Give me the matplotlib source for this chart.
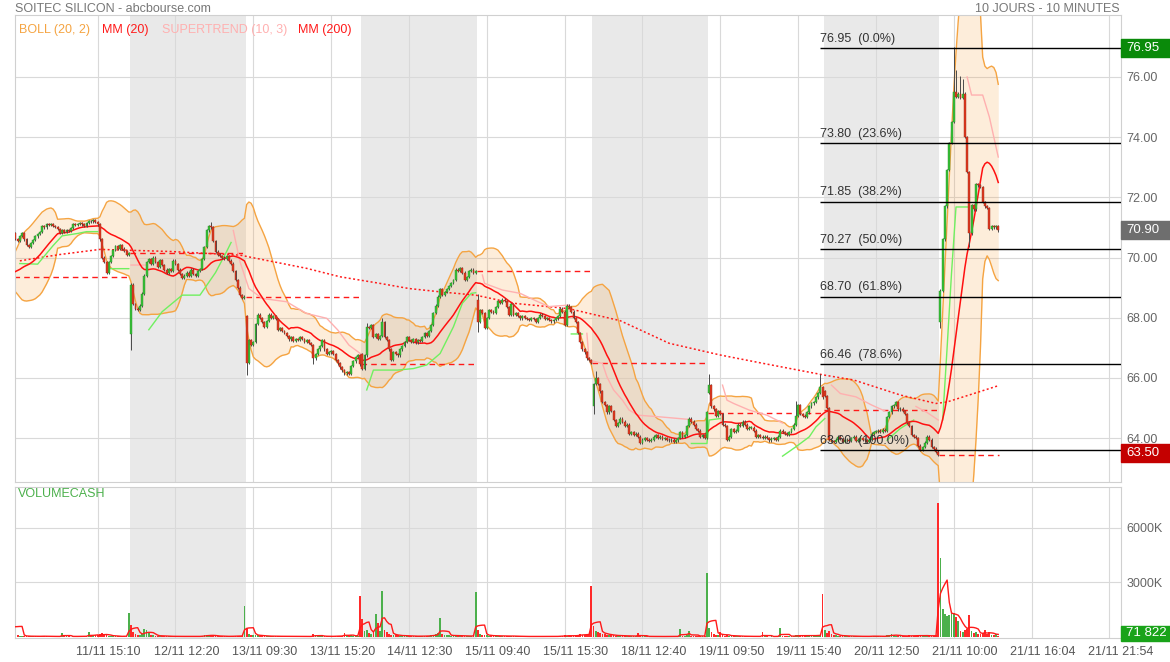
import numpy as np
import pandas as pd
import matplotlib
matplotlib.use("Agg")
import matplotlib.pyplot as plt
from matplotlib.patches import Rectangle
from matplotlib.transforms import ScaledTranslation, blended_transform_factory

plt.rcParams['font.family'] = ['Liberation Sans', 'DejaVu Sans']

W, H = 1170, 662
nan = np.nan

# --- fin de seance du 08/11, sert seulement a amorcer les indicateurs
seed_close = [69.90, 69.85, 69.95, 69.80, 69.70, 69.75, 69.60, 69.55, 69.50, 69.40,
              69.30, 69.35, 69.20, 69.15, 69.25, 69.30, 69.40, 69.35, 69.30, 69.35]
seed_vol = [40, 30, 50, 35, 30, 45, 40, 30, 60, 50, 40, 35, 30, 50, 45, 40, 30, 30, 30, 2400]

# --- clotures 10 minutes, une liste par seance
c_1111 = [70.62, 70.55, 70.72, 70.80, 70.60, 70.42, 70.35, 70.48, 70.58, 70.70,
          70.78, 70.85, 71.05, 71.00, 71.10, 71.08, 71.12, 71.05, 71.02, 70.95,
          70.82, 70.90, 70.85, 70.92, 70.88, 70.98, 71.10, 71.08, 71.12, 71.15,
          71.10, 71.05, 71.15, 71.22, 71.20, 71.25, 71.18, 71.10, 70.60, 70.00,
          69.85, 69.50, 69.85, 70.05, 70.25, 70.38, 70.30, 70.40, 70.30, 70.22,
          70.10, 70.15]
c_1211 = [69.10, 68.45, 68.30, 68.25, 68.40, 68.80, 69.40, 69.85, 69.95, 69.80,
          70.00, 69.85, 69.70, 69.92, 69.75, 69.60, 69.50, 69.62, 69.55, 69.90,
          69.78, 69.60, 69.45, 69.32, 69.40, 69.50, 69.38, 69.60, 69.45, 69.38,
          69.55, 69.62, 69.95, 70.35, 70.90, 71.05, 71.00, 70.55, 70.20, 70.10,
          70.05, 70.00, 69.95, 70.05, 69.90, 69.80, 69.55, 69.25, 69.00, 68.75,
          68.65, 68.70]
c_1311 = [66.50, 67.25, 67.10, 67.20, 67.80, 68.10, 68.00, 67.85, 67.70, 67.90,
          68.10, 68.00, 68.05, 67.95, 67.60, 67.65, 67.55, 67.50, 67.40, 67.28,
          67.35, 67.22, 67.30, 67.25, 67.35, 67.30, 67.20, 67.25, 67.15, 67.10,
          66.65, 66.80, 66.95, 67.05, 67.25, 66.95, 66.80, 66.85, 66.90, 66.80,
          66.60, 66.48, 66.35, 66.25, 66.15, 66.20, 66.12, 66.40, 66.55, 66.70,
          66.75, 66.45]
c_1411 = [66.30, 66.75, 67.70, 67.65, 67.75, 67.35, 67.45, 67.30, 67.40, 67.85,
          67.35, 67.25, 66.95, 66.60, 66.85, 66.80, 66.75, 66.95, 67.05, 67.20,
          67.35, 67.25, 67.20, 67.28, 67.18, 67.25, 67.22, 67.35, 67.50, 67.40,
          67.55, 67.75, 68.15, 68.40, 68.70, 68.95, 68.75, 68.85, 68.95, 69.05,
          69.15, 69.25, 69.60, 69.55, 69.65, 69.50, 69.25, 69.35, 69.55, 69.60,
          69.50, 69.55]
c_1511 = [67.85, 68.25, 68.15, 67.65, 68.00, 68.25, 68.20, 68.15, 68.35, 68.55,
          68.50, 68.60, 68.55, 68.35, 68.10, 68.45, 68.10, 68.15, 68.05, 67.98,
          68.05, 68.00, 67.95, 67.92, 68.00, 67.95, 67.85, 68.00, 68.10, 68.05,
          67.95, 68.00, 67.92, 67.88, 67.92, 67.98, 68.05, 68.30, 68.20, 67.75,
          68.40, 68.35, 68.20, 68.00, 67.85, 67.50, 67.20, 66.95, 66.85, 66.65,
          66.60, 66.50]
c_1811 = [65.80, 66.00, 65.80, 65.55, 65.20, 65.10, 64.85, 65.05, 64.90, 64.60,
          64.40, 64.50, 64.65, 64.55, 64.40, 64.45, 64.15, 64.20, 64.10, 64.15,
          64.05, 63.85, 63.95, 64.00, 63.95, 63.90, 63.95, 64.05, 64.10, 64.00,
          64.05, 63.98, 64.00, 63.95, 63.92, 63.95, 63.88, 63.92, 64.00, 64.20,
          64.05, 64.10, 64.40, 64.65, 64.55, 64.45, 64.30, 64.25, 64.05, 64.10,
          64.00, 64.85]
c_1911 = [65.75, 65.05, 64.95, 64.75, 64.90, 64.80, 64.45, 64.40, 63.95, 64.05,
          64.30, 64.20, 64.25, 64.45, 64.40, 64.55, 64.45, 64.30, 64.35, 64.35,
          64.25, 64.05, 64.10, 64.05, 64.00, 64.05, 64.00, 63.92, 63.98, 64.00,
          63.95, 64.05, 64.25, 64.20, 64.15, 64.10, 64.20, 64.30, 64.45, 64.75,
          65.10, 64.80, 64.75, 64.70, 64.85, 65.05, 65.15, 65.20, 65.35, 65.50,
          65.70, 65.35]
c_2011 = [65.40, 65.00, 63.95, 63.90, 63.88, 63.95, 64.05, 63.98, 63.88, 63.92,
          63.95, 63.90, 64.00, 64.05, 63.90, 63.95, 64.00, 63.95, 63.92, 63.88,
          63.95, 64.15, 64.20, 64.22, 64.25, 64.20, 64.28, 64.25, 64.70, 64.85,
          65.05, 65.10, 65.20, 64.95, 64.98, 64.90, 64.80, 64.50, 64.40, 64.10,
          64.05, 64.00, 63.75, 63.60, 63.70, 63.85, 64.05, 63.95, 63.70, 63.65,
          63.55, 63.45]
c_2111 = [68.90, 70.60, 71.70, 72.90, 73.80, 74.50, 75.50, 75.35, 75.45, 75.30,
          75.45, 74.00, 72.85, 70.80, 71.75, 71.60, 72.45, 72.40, 72.35, 71.85,
          71.70, 71.65, 70.95, 71.05, 71.00, 71.05, 70.90]

# ouverture de chaque seance (les autres barres ouvrent sur la cloture precedente)
day_open = [70.80, 67.45, 68.05, 66.80, 68.60, 65.05, 65.50, 65.55, 67.85]

# meches visibles (index de barre depuis le 11/11 09:00)
hi_fix = {88: 71.15, 158: 67.80, 165: 67.95, 208: 68.75, 261: 66.20, 312: 66.10,
          351: 65.20, 362: 66.10, 422: 76.95, 423: 76.20, 425: 76.00, 426: 75.90}
lo_fix = {52: 66.98, 104: 66.15, 134: 66.50, 208: 67.55, 260: 64.85, 416: 67.70,
          429: 70.40}

# volumes en milliers
v_1111 = [300, 80, 60, 40, 50, 30, 40, 35, 30, 45, 30, 25, 60, 30, 40, 20, 30, 25, 30, 20,
          30, 240, 40, 30, 25, 20, 30, 25, 40, 30, 20, 25, 60, 270, 40, 30, 90, 120, 150, 200,
          80, 110, 60, 50, 40, 30, 35, 25, 30, 40, 60, 1330]
v_1211 = [650, 250, 180, 120, 100, 150, 420, 380, 200, 90, 80, 60, 50, 40, 60, 40, 30, 40, 30, 25,
          30, 40, 25, 30, 20, 25, 30, 20, 25, 30, 40, 30, 60, 80, 120, 90, 60, 70, 50, 40,
          30, 35, 30, 25, 40, 30, 50, 60, 40, 50, 60, 1690]
v_1311 = [500, 160, 90, 80, 120, 90, 60, 50, 40, 50, 45, 30, 35, 30, 50, 30, 25, 30, 20, 25,
          30, 20, 25, 30, 20, 25, 20, 30, 25, 30, 160, 80, 40, 30, 50, 40, 30, 25, 30, 35,
          60, 50, 40, 60, 230, 50, 60, 90, 60, 50, 70, 2240]
v_1411 = [960, 300, 400, 200, 150, 300, 1240, 780, 300, 2510, 400, 250, 150, 120, 100, 80, 90, 60, 50, 70,
          60, 40, 50, 40, 30, 40, 35, 50, 60, 40, 70, 80, 120, 150, 200, 1020, 150, 100, 80, 90,
          70, 60, 80, 60, 50, 40, 60, 50, 40, 50, 80, 2475]
v_1511 = [400, 150, 120, 90, 80, 60, 70, 50, 60, 70, 40, 50, 45, 40, 60, 50, 40, 35, 30, 25,
          30, 20, 25, 30, 20, 25, 30, 25, 20, 30, 25, 20, 25, 30, 20, 30, 40, 60, 50, 80,
          70, 60, 50, 60, 80, 120, 150, 130, 110, 120, 150, 2785]
v_1811 = [600, 300, 250, 200, 180, 150, 120, 100, 90, 80, 70, 60, 70, 60, 50, 60, 50, 40, 50, 40,
          200, 40, 30, 25, 30, 20, 25, 30, 25, 20, 30, 25, 20, 25, 30, 20, 25, 30, 40, 450,
          60, 50, 80, 300, 60, 50, 40, 60, 50, 40, 60, 3510]
v_1911 = [510, 250, 150, 120, 100, 250, 80, 60, 90, 70, 60, 50, 40, 50, 40, 35, 30, 40, 30, 25,
          30, 40, 25, 30, 250, 30, 25, 20, 30, 25, 30, 40, 510, 60, 40, 30, 40, 50, 60, 90,
          80, 60, 50, 60, 70, 80, 60, 70, 80, 90, 120, 2330]
v_2011 = [360, 200, 300, 150, 100, 80, 70, 60, 50, 60, 40, 50, 40, 35, 30, 40, 30, 25, 30, 40,
          30, 60, 40, 30, 25, 30, 40, 35, 80, 100, 150, 80, 70, 60, 50, 40, 50, 60, 80, 70,
          60, 50, 90, 80, 60, 70, 60, 50, 70, 60, 80, 7370]
v_2111 = [4330, 1510, 1250, 1150, 1200, 1420, 1330, 1100, 900, 330, 250, 400, 450, 1180, 350, 200,
          250, 180, 150, 200, 380, 150, 250, 120, 100, 150, 71.822]

# niveaux de cloture de la veille (pointilles rouges par seance)
prev_close = [69.35, 70.15, 68.70, 66.45, 69.55, 66.50, 64.84, 64.93, 63.45]

# moyenne mobile 200 (historique non visible)
mm200_bar = [2, 20, 38, 70, 101, 116, 131, 146, 164, 177, 191, 207, 224, 249, 272,
             294, 317, 335, 364, 377, 398, 414, 419, 431, 442]
mm200_val = [69.89, 70.10, 70.27, 70.20, 70.08, 69.86, 69.64, 69.36, 69.14, 68.97,
             68.86, 68.75, 68.48, 68.30, 67.90, 67.15, 66.76, 66.50, 66.09, 65.93,
             65.43, 65.15, 65.20, 65.48, 65.74]

# supertrend (10, 3), nan = coupure
st_up_bar = [2, 10, 17, 21, 28, 32, 37, nan,
             42, 51, nan,
             60, 66, 75, 83, 90, 95, 97, nan,
             158, 161, 172, 179, 185, 191, 197, 201, 205, 207, nan,
             250, 255, nan,
             304, 311, 312, 317, nan,
             345, 351, 357, 360, 364, nan,
             392, 398, 404, nan,
             417, 419, 421, 423, 429]
st_up_val = [69.80, 69.78, 70.40, 70.72, 70.80, 70.86, 70.86, nan,
             69.63, 69.63, nan,
             67.60, 68.20, 68.75, 68.75, 69.50, 70.20, 70.50, nan,
             65.60, 66.26, 66.26, 66.31, 66.43, 66.81, 67.70, 68.48, 68.81, 68.83, nan,
             67.46, 67.46, nan,
             63.82, 63.82, 64.60, 64.65, nan,
             63.40, 63.71, 64.04, 64.37, 64.65, nan,
             63.93, 64.32, 64.60, nan,
             64.60, 67.00, 69.50, 71.68, 71.68]
st_dn_bar = [52, 59, nan,
             98, 101, 105, 111, 122, 127, 131, 140, 145, 150, 156, nan,
             210, 211, 219, 227, 235, 240, 249, nan,
             257, 258, 264, 266, 269, 273, 276, 280, 289, 303, nan,
             318, 320, 323, 330, 338, 345, nan,
             367, 371, 378, 385, 391, nan,
             405, 410, 415, nan,
             428, 430, 435, 438, 442]
st_dn_val = [69.75, 69.75, nan,
             70.90, 69.86, 68.97, 68.64, 68.53, 68.31, 68.14, 67.98, 67.59, 67.09, 66.76, nan,
             69.42, 69.14, 68.92, 68.81, 68.53, 68.37, 68.42, nan,
             67.48, 66.59, 66.48, 66.04, 65.60, 65.26, 64.93, 64.76, 64.71, 64.62, nan,
             65.76, 65.26, 65.15, 64.93, 64.76, 64.50, nan,
             65.76, 65.48, 65.37, 65.10, 64.90, nan,
             65.05, 64.85, 64.60, nan,
             76.00, 75.40, 75.40, 74.67, 73.34]

fib_levels = [76.95, 73.80, 71.85, 70.27, 68.70, 66.46, 63.60]
fib_pct = ["0.0%", "23.6%", "38.2%", "50.0%", "61.8%", "78.6%", "100.0%"]

tick_labels = ["11/11 15:10", "12/11 12:20", "13/11 09:30", "13/11 15:20", "14/11 12:30",
               "15/11 09:40", "15/11 15:30", "18/11 12:40", "19/11 09:50", "19/11 15:40",
               "20/11 12:50", "21/11 10:00", "21/11 16:04", "21/11 21:54"]

# --- assemblage OHLC
days = [c_1111, c_1211, c_1311, c_1411, c_1511, c_1811, c_1911, c_2011, c_2111]
vols = [v_1111, v_1211, v_1311, v_1411, v_1511, v_1811, v_1911, v_2011, v_2111]
n_seed = len(seed_close)
closes = np.array(seed_close + sum(days, []))
volume = np.array(seed_vol + sum(vols, []), dtype=float)
opens = np.r_[closes[0], closes[:-1]]
starts = np.cumsum([0] + [len(d) for d in days])
for d in range(len(days)):
    opens[n_seed + starts[d]] = day_open[d]
highs = np.maximum(opens, closes)
lows = np.minimum(opens, closes)
for b, v in hi_fix.items():
    highs[n_seed + b] = v
for b, v in lo_fix.items():
    lows[n_seed + b] = v
x = np.arange(len(closes)) - n_seed

# --- indicateurs
s = pd.Series(closes)
mm20 = s.rolling(20).mean().values
sd = s.rolling(20).std(ddof=0).values
bb_up = mm20 + 2 * sd
bb_dn = mm20 - 2 * sd
vol_ma = pd.Series(volume).rolling(5).mean().values

show = x >= 0
xs = x[show]

# --- figure
fig = plt.figure(figsize=(W / 100, H / 100), dpi=100)
fig.patch.set_facecolor('white')
ax = fig.add_axes([14.5 / W, 1 - 482 / H, (1121 - 14.5) / W, (482 - 15) / H])
axv = fig.add_axes([14.5 / W, 1 - 638 / H, (1121 - 14.5) / W, (638 - 487) / H], sharex=ax)

xmax = 497.2
for a in (ax, axv):
    for d in (1, 3, 5, 7):
        a.axvspan(starts[d] - 0.5, starts[d + 1] - 0.5, color='#e9e9e9', lw=0, zorder=0)
    a.set_axisbelow(True)
    a.grid(True, color='#d9d9d9', lw=0.8)
    for sp in a.spines.values():
        sp.set_color('#d0d0d0')
        sp.set_linewidth(0.8)
    a.yaxis.tick_right()
    a.tick_params(axis='y', length=0, pad=4, labelsize=9, labelcolor='#666666')
    a.tick_params(axis='x', length=0)

ax.set_xlim(-0.4, xmax)
ax.set_ylim(62.54, 78.06)
ax.set_yticks(np.arange(64, 77, 2))
ax.yaxis.set_major_formatter(plt.FormatStrFormatter('%.2f'))
ax.set_xticks([37 + 35 * k for k in range(len(tick_labels))])
ax.tick_params(axis='x', labelbottom=False)
axv.set_xticklabels(tick_labels)
axv.tick_params(axis='x', labelsize=9, labelcolor='#555555', pad=6)
for lbl in axv.get_xticklabels():
    lbl.set_transform(lbl.get_transform() + ScaledTranslation(0.11, 0, fig.dpi_scale_trans))

# bollinger
ax.fill_between(xs, bb_dn[show], bb_up[show], color='#f7a548', alpha=0.2, lw=0, zorder=1)
ax.plot(xs, bb_up[show], color='#f5a442', lw=1, zorder=2)
ax.plot(xs, bb_dn[show], color='#f5a442', lw=1, zorder=2)

# cloture veille
for d in range(len(days)):
    x0 = starts[d] - 0.5
    x1 = starts[d + 1] - 0.5
    ax.plot([x0, x1], [prev_close[d], prev_close[d]], color='#ff1a1a', lw=1,
            dashes=(4, 3), zorder=2)

ax.plot(mm200_bar, mm200_val, color='#ff1a1a', lw=1.1, dashes=(1.3, 1.6), zorder=3)
ax.plot(st_dn_bar, st_dn_val, color='#ffb0b0', lw=1, zorder=3)
ax.plot(st_up_bar, st_up_val, color='#70f060', lw=1, zorder=3)
ax.plot(xs, mm20[show], color='#ff1010', lw=1.1, zorder=3)

# bougies
o, c, h, l = opens[show], closes[show], highs[show], lows[show]
up = c >= o
body_lo = np.minimum(o, c)
body_h = np.maximum(abs(c - o), 0.025)
ax.vlines(xs, l - 0.04, h + 0.04, color='#4a4a4a', lw=0.7, zorder=4)
ax.bar(xs[up], body_h[up], bottom=body_lo[up], width=0.85, color='#36c236',
       edgecolor='#2b8c2b', lw=0.3, zorder=5)
ax.bar(xs[~up], body_h[~up], bottom=body_lo[~up], width=0.85, color='#e0381f',
       edgecolor='#9c2a1a', lw=0.3, zorder=5)

# fibonacci
fx0 = 361.8
ax.hlines(fib_levels, fx0, xmax, color='black', lw=1, zorder=6)
for lv, pc in zip(fib_levels, fib_pct):
    ax.annotate(f"{lv:.2f}  ({pc})", (fx0, lv), xytext=(0, 2.5), textcoords='offset points',
                fontsize=9, color='#333333', va='bottom', ha='left', zorder=7)

# volume
prev = np.r_[closes[0], closes[:-1]]
vcol = np.where(closes >= prev, '#4cb04c', '#ff2a2a')
axv.bar(xs, volume[show], width=0.8, color=vcol[show], lw=0, zorder=2)
axv.plot(xs, vol_ma[show], color='#ff1a1a', lw=1, zorder=3)
axv.set_ylim(-60, 8230)
axv.set_yticks([3000, 6000])
axv.set_yticklabels(['3000K', '6000K'])

# etiquettes de prix a droite
tp = blended_transform_factory(fig.transFigure, ax.transData)
bh = 18 * (78.06 - 62.54) / 467
for val, txt, col in [(76.95, '76.95', '#0a8a0a'), (70.90, '70.90', '#6e6e6e'),
                      (63.50, '63.50', '#c40000')]:
    ax.add_patch(Rectangle((1121 / W, val - bh / 2), 49 / W, bh, transform=tp,
                           color=col, clip_on=False, zorder=10))
    ax.text(1126 / W, val, txt, transform=tp, color='white', fontsize=9.5,
            va='center', ha='left', clip_on=False, zorder=11)
tv = blended_transform_factory(fig.transFigure, axv.transData)
vh = 15 * 8290 / 152
axv.add_patch(Rectangle((1121 / W, 200 - vh / 2), 49 / W, vh, transform=tv,
                        color='#19a319', clip_on=False, zorder=10))
axv.text(1126 / W, 200, '71 822', transform=tv, color='white', fontsize=9.5,
         va='center', ha='left', clip_on=False, zorder=11)

# textes
def fpos(px, py):
    return px / W, 1 - py / H


fig.text(*fpos(15, 9), 'SOITEC SILICON - abcbourse.com', fontsize=9, color='#777777', va='center')
fig.text(*fpos(1120, 9), '10 JOURS - 10 MINUTES', fontsize=9, color='#777777', va='center', ha='right')
for px, txt, col in [(19, 'BOLL (20, 2)', '#f5a442'), (102, 'MM (20)', '#ff1a1a'),
                     (162, 'SUPERTREND (10, 3)', '#ffb0b0'), (298, 'MM (200)', '#ff1a1a')]:
    fig.text(*fpos(px, 30), txt, fontsize=9, color=col, va='center')
fig.text(*fpos(18, 494), 'VOLUMECASH', fontsize=9, color='#4cb04c', va='center')

fig.savefig('out.png', dpi=100)
